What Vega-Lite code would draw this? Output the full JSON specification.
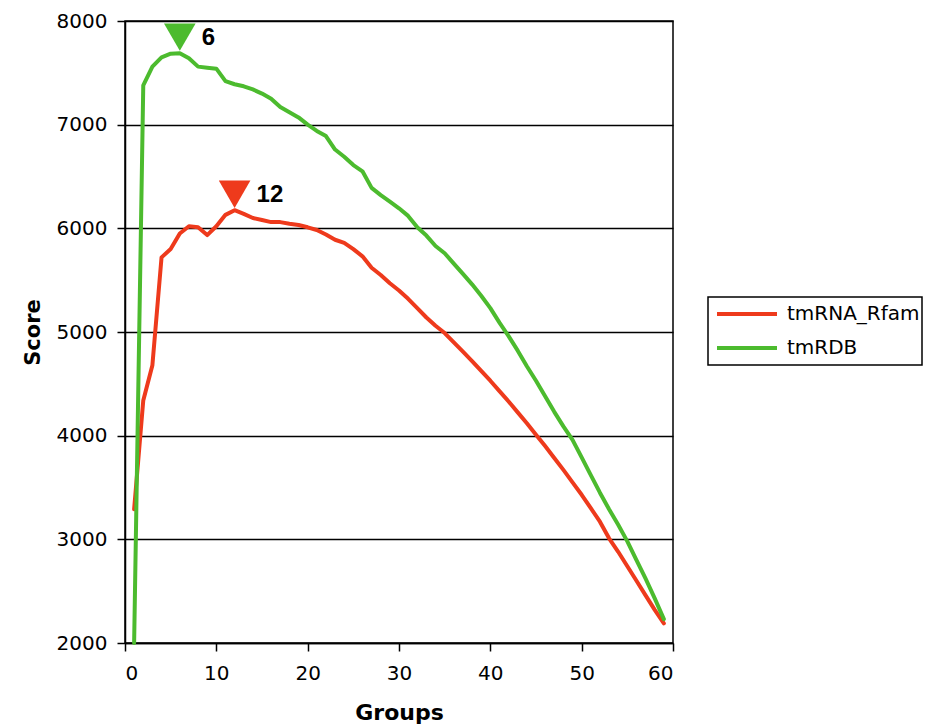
{
  "$schema": "https://vega.github.io/schema/vega-lite/v6.json",
  "width": 548,
  "height": 622,
  "autosize": "none",
  "padding": {"left": 125, "top": 21, "right": 264, "bottom": 82},
  "background": "white",
  "config": {
    "view": {"stroke": "black", "strokeWidth": 1.5},
    "axis": {
      "domainColor": "black", "domainWidth": 1.5,
      "tickColor": "black", "tickWidth": 1.5, "tickSize": 8,
      "gridColor": "black", "gridWidth": 1.5, "gridOpacity": 1,
      "labelFont": "DejaVu Sans", "labelFontSize": 20, "labelColor": "black",
      "titleFont": "DejaVu Sans", "titleFontWeight": "bold", "titleColor": "black"
    },
    "legend": {"strokeWidth": 1.5}
  },
  "layer": [
    {
      "data": {"values": [
        {"group":1,"score":3290,"series":"tmRNA_Rfam"},{"group":2,"score":4340,"series":"tmRNA_Rfam"},{"group":3,"score":4680,"series":"tmRNA_Rfam"},{"group":4,"score":5720,"series":"tmRNA_Rfam"},{"group":5,"score":5800,"series":"tmRNA_Rfam"},{"group":6,"score":5950,"series":"tmRNA_Rfam"},{"group":7,"score":6020,"series":"tmRNA_Rfam"},{"group":8,"score":6010,"series":"tmRNA_Rfam"},{"group":9,"score":5935,"series":"tmRNA_Rfam"},{"group":10,"score":6020,"series":"tmRNA_Rfam"},
        {"group":11,"score":6130,"series":"tmRNA_Rfam"},{"group":12,"score":6175,"series":"tmRNA_Rfam"},{"group":13,"score":6140,"series":"tmRNA_Rfam"},{"group":14,"score":6100,"series":"tmRNA_Rfam"},{"group":15,"score":6080,"series":"tmRNA_Rfam"},{"group":16,"score":6060,"series":"tmRNA_Rfam"},{"group":17,"score":6060,"series":"tmRNA_Rfam"},{"group":18,"score":6045,"series":"tmRNA_Rfam"},{"group":19,"score":6032,"series":"tmRNA_Rfam"},{"group":20,"score":6010,"series":"tmRNA_Rfam"},
        {"group":21,"score":5984,"series":"tmRNA_Rfam"},{"group":22,"score":5940,"series":"tmRNA_Rfam"},{"group":23,"score":5890,"series":"tmRNA_Rfam"},{"group":24,"score":5860,"series":"tmRNA_Rfam"},{"group":25,"score":5800,"series":"tmRNA_Rfam"},{"group":26,"score":5730,"series":"tmRNA_Rfam"},{"group":27,"score":5620,"series":"tmRNA_Rfam"},{"group":28,"score":5550,"series":"tmRNA_Rfam"},{"group":29,"score":5470,"series":"tmRNA_Rfam"},{"group":30,"score":5400,"series":"tmRNA_Rfam"},
        {"group":31,"score":5320,"series":"tmRNA_Rfam"},{"group":32,"score":5230,"series":"tmRNA_Rfam"},{"group":33,"score":5140,"series":"tmRNA_Rfam"},{"group":34,"score":5060,"series":"tmRNA_Rfam"},{"group":35,"score":4990,"series":"tmRNA_Rfam"},{"group":36,"score":4900,"series":"tmRNA_Rfam"},{"group":37,"score":4810,"series":"tmRNA_Rfam"},{"group":38,"score":4720,"series":"tmRNA_Rfam"},{"group":39,"score":4625,"series":"tmRNA_Rfam"},{"group":40,"score":4530,"series":"tmRNA_Rfam"},
        {"group":41,"score":4430,"series":"tmRNA_Rfam"},{"group":42,"score":4330,"series":"tmRNA_Rfam"},{"group":43,"score":4225,"series":"tmRNA_Rfam"},{"group":44,"score":4120,"series":"tmRNA_Rfam"},{"group":45,"score":4010,"series":"tmRNA_Rfam"},{"group":46,"score":3900,"series":"tmRNA_Rfam"},{"group":47,"score":3785,"series":"tmRNA_Rfam"},{"group":48,"score":3670,"series":"tmRNA_Rfam"},{"group":49,"score":3550,"series":"tmRNA_Rfam"},{"group":50,"score":3430,"series":"tmRNA_Rfam"},
        {"group":51,"score":3300,"series":"tmRNA_Rfam"},{"group":52,"score":3170,"series":"tmRNA_Rfam"},{"group":53,"score":3010,"series":"tmRNA_Rfam"},{"group":54,"score":2880,"series":"tmRNA_Rfam"},{"group":55,"score":2740,"series":"tmRNA_Rfam"},{"group":56,"score":2600,"series":"tmRNA_Rfam"},{"group":57,"score":2460,"series":"tmRNA_Rfam"},{"group":58,"score":2320,"series":"tmRNA_Rfam"},{"group":59,"score":2190,"series":"tmRNA_Rfam"},
        {"group":1,"score":2000,"series":"tmRDB"},{"group":2,"score":7380,"series":"tmRDB"},{"group":3,"score":7560,"series":"tmRDB"},{"group":4,"score":7650,"series":"tmRDB"},{"group":5,"score":7685,"series":"tmRDB"},{"group":6,"score":7690,"series":"tmRDB"},{"group":7,"score":7640,"series":"tmRDB"},{"group":8,"score":7560,"series":"tmRDB"},{"group":9,"score":7550,"series":"tmRDB"},{"group":10,"score":7540,"series":"tmRDB"},
        {"group":11,"score":7420,"series":"tmRDB"},{"group":12,"score":7390,"series":"tmRDB"},{"group":13,"score":7370,"series":"tmRDB"},{"group":14,"score":7340,"series":"tmRDB"},{"group":15,"score":7300,"series":"tmRDB"},{"group":16,"score":7250,"series":"tmRDB"},{"group":17,"score":7170,"series":"tmRDB"},{"group":18,"score":7120,"series":"tmRDB"},{"group":19,"score":7070,"series":"tmRDB"},{"group":20,"score":7000,"series":"tmRDB"},
        {"group":21,"score":6940,"series":"tmRDB"},{"group":22,"score":6890,"series":"tmRDB"},{"group":23,"score":6760,"series":"tmRDB"},{"group":24,"score":6690,"series":"tmRDB"},{"group":25,"score":6610,"series":"tmRDB"},{"group":26,"score":6550,"series":"tmRDB"},{"group":27,"score":6390,"series":"tmRDB"},{"group":28,"score":6320,"series":"tmRDB"},{"group":29,"score":6257,"series":"tmRDB"},{"group":30,"score":6193,"series":"tmRDB"},
        {"group":31,"score":6120,"series":"tmRDB"},{"group":32,"score":6010,"series":"tmRDB"},{"group":33,"score":5930,"series":"tmRDB"},{"group":34,"score":5830,"series":"tmRDB"},{"group":35,"score":5760,"series":"tmRDB"},{"group":36,"score":5660,"series":"tmRDB"},{"group":37,"score":5560,"series":"tmRDB"},{"group":38,"score":5460,"series":"tmRDB"},{"group":39,"score":5350,"series":"tmRDB"},{"group":40,"score":5230,"series":"tmRDB"},
        {"group":41,"score":5090,"series":"tmRDB"},{"group":42,"score":4960,"series":"tmRDB"},{"group":43,"score":4820,"series":"tmRDB"},{"group":44,"score":4670,"series":"tmRDB"},{"group":45,"score":4530,"series":"tmRDB"},{"group":46,"score":4380,"series":"tmRDB"},{"group":47,"score":4230,"series":"tmRDB"},{"group":48,"score":4090,"series":"tmRDB"},{"group":49,"score":3960,"series":"tmRDB"},{"group":50,"score":3790,"series":"tmRDB"},
        {"group":51,"score":3620,"series":"tmRDB"},{"group":52,"score":3450,"series":"tmRDB"},{"group":53,"score":3290,"series":"tmRDB"},{"group":54,"score":3140,"series":"tmRDB"},{"group":55,"score":2980,"series":"tmRDB"},{"group":56,"score":2800,"series":"tmRDB"},{"group":57,"score":2620,"series":"tmRDB"},{"group":58,"score":2430,"series":"tmRDB"},{"group":59,"score":2230,"series":"tmRDB"}
      ]},
      "mark": {"type": "line", "strokeWidth": 4, "strokeJoin": "round", "strokeCap": "round"},
      "encoding": {
        "x": {"field": "group", "type": "quantitative", "scale": {"domain": [0, 60], "nice": false, "zero": false},
              "axis": {"title": "Groups", "values": [0,10,20,30,40,50,60], "format": "d", "grid": false, "labelPadding": 12,
                       "titleFontSize": 22, "titleX": 274, "titleY": 76, "titleBaseline": "alphabetic"}},
        "y": {"field": "score", "type": "quantitative", "scale": {"domain": [2000, 8000], "nice": false, "zero": false},
              "axis": {"title": "Score", "values": [2000,3000,4000,5000,6000,7000,8000], "format": "d", "grid": true, "labelPadding": 10,
                       "titleFontSize": 21, "titleX": -86, "titleY": 311, "titleBaseline": "alphabetic"}},
        "color": {"field": "series", "type": "nominal",
                  "scale": {"domain": ["tmRNA_Rfam", "tmRDB"], "range": ["#ee3a1c", "#4cbb2e"]},
                  "legend": {"title": null, "orient": "none", "legendX": 583, "legendY": 276,
                             "strokeColor": "black", "padding": 2, "clipHeight": 30, "rowPadding": 4,
                             "symbolType": "stroke", "symbolSize": 3600, "symbolStrokeWidth": 4, "symbolOffset": 5,
                             "labelOffset": 8, "labelFont": "DejaVu Sans", "labelFontSize": 20, "labelColor": "black"}}
      }
    },
    {
      "data": {"values": [
        {"group": 6, "score": 7690, "series": "tmRDB", "label": "6"},
        {"group": 12, "score": 6175, "series": "tmRNA_Rfam", "label": "12"}
      ]},
      "layer": [
        {
          "mark": {"type": "point", "shape": "triangle-down", "filled": true, "size": 1000, "opacity": 1, "strokeWidth": 0, "yOffset": -16},
          "encoding": {
            "x": {"field": "group", "type": "quantitative"},
            "y": {"field": "score", "type": "quantitative"},
            "fill": {"field": "series", "type": "nominal",
                     "scale": {"domain": ["tmRNA_Rfam", "tmRDB"], "range": ["#ee3a1c", "#4cbb2e"]}, "legend": null}
          }
        },
        {
          "mark": {"type": "text", "align": "left", "baseline": "middle", "dx": 22, "dy": -15,
                   "font": "Liberation Sans", "fontWeight": "bold", "fontSize": 24, "color": "black"},
          "encoding": {
            "x": {"field": "group", "type": "quantitative"},
            "y": {"field": "score", "type": "quantitative"},
            "text": {"field": "label"}
          }
        }
      ]
    }
  ]
}
